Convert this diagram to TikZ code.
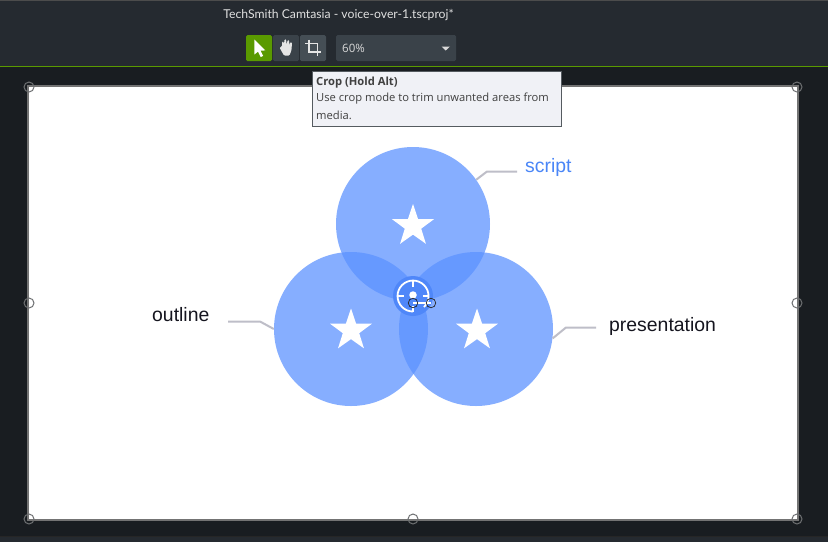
\documentclass[tikz,border=0pt]{standalone}
\usepackage{fontspec}
\setmainfont{Liberation Sans}
\newfontfamily\uifont{Open Sans}
\newfontfamily\titlefont{Lato}
\usetikzlibrary{shapes.geometric}
\definecolor{barbg}{HTML}{252A30}
\definecolor{darkbg}{HTML}{191D21}
\definecolor{greenline}{HTML}{5A9A00}
\definecolor{btn}{HTML}{3A4249}
\definecolor{btnb}{HTML}{454E55}
\definecolor{tipbg}{HTML}{F0F1F6}
\definecolor{tipline}{HTML}{555B60}
\definecolor{venn}{HTML}{5C92FF}
\definecolor{hub}{HTML}{4F87F9}
\definecolor{leader}{HTML}{BEBEC8}
\definecolor{scriptblue}{HTML}{4A86F7}
\definecolor{ink}{HTML}{15151F}
\definecolor{handle}{HTML}{6E7072}
\tikzset{x=1pt,y=-1pt,
  vennc/.style={circle,fill=venn,fill opacity=.74,minimum size=154pt,inner sep=0pt,draw=none},
  starm/.style={star,star points=5,star point ratio=2.55,fill=white,draw=none,minimum size=44pt,inner sep=0pt},
  leaderl/.style={draw=leader,line width=2pt},
  lab/.style={font=\fontsize{19.4}{22}\selectfont,text=ink,inner sep=0pt},
  handlec/.style={circle,draw=black!85,line width=.7pt,minimum size=9.5pt,inner sep=0pt},
  handleo/.style={circle,draw=handle,line width=1pt,minimum size=10pt,inner sep=0pt},
  tool/.style={minimum width=26pt,minimum height=26pt,inner sep=0pt,rounded corners=1.5pt},
  tiptext/.style={font=\uifont\fontsize{11.2}{13}\selectfont,text=black!75,inner sep=0pt,anchor=west},
}
\begin{document}
\begin{tikzpicture}
\useasboundingbox (0,0) rectangle (828,542);
% backgrounds
\fill[darkbg] (0,0) rectangle (828,542);
\fill[barbg] (0,0) rectangle (828,66);
\fill[greenline] (0,66) rectangle (828,67.4);
\fill[black!85] (0,535.6) rectangle (828,536.6);
\fill[barbg] (0,536.6) rectangle (828,542);
\fill[black!70] (0,0) rectangle (828,1);
% canvas
\node[draw=black!55!white,line width=1.6pt,fill=white,minimum width=770pt,minimum height=434pt,inner sep=0pt,anchor=north west] (canvas) at (27.3,85.2) {};
% title and tools
\node[font=\titlefont\fontsize{12.2}{15}\selectfont,text=white!88!black,inner sep=0pt] (title) at (338.5,15.5) {TechSmith Camtasia - voice-over-1.tscproj*};
\node[tool,fill=greenline] (arrowbtn) at (259,48) {};
\node[tool,fill=btn] (handbtn) at (286,48) {};
\node[tool,fill=btnb] (cropbtn) at (313,48) {};
\fill[white] (254.3,39.5) -- (254.3,54.6) -- (258,51.6) -- (260.7,57) -- (263.2,55.9) -- (260.6,50.7) -- (265.4,50.4) -- cycle;
\fill[white!90!black,rounded corners=1pt] (279.5,47.5) -- (282,46.5) -- (282,41.5) -- (283.5,41.5) -- (284,45) -- (284.5,39.3) -- (286,39.3) -- (286.7,45) -- (287.6,40) -- (289,40) -- (289,46) -- (290.2,42) -- (292,42.5) -- (291.5,50) -- (289.5,55.5) -- (284,55.5) -- cycle;
\draw[white!90!black,line width=1.8pt] (309,39.5) -- (309,52) -- (321,52);
\draw[white!90!black,line width=1.8pt] (305,43.5) -- (317.5,43.5) -- (317.5,56);
\node[tool,fill=btn,minimum width=120pt,anchor=west] (zoombox) at (336,48) {};
\node[font=\uifont\fontsize{11.5}{13}\selectfont,text=white!85!black,inner sep=0pt,anchor=west] (zoomtxt) at (342,48.5) {60\%};
\fill[white!85!black] (441.5,46.5) -- (450,46.5) -- (445.7,50.5) -- cycle;
% venn
\node[vennc] (top) at (413,224) {};
\node[vennc] (left) at (351,329) {};
\node[vennc] (right) at (476,329) {};
\node[starm] (s1) at (413,226) {};
\node[starm] (s2) at (351,330.5) {};
\node[starm] (s3) at (477,330.5) {};
% labels
\node[lab,text=scriptblue,anchor=west] (script) at (525,167.5) {script};
\node[lab,anchor=west] (outline) at (152,315) {outline};
\node[lab,anchor=west] (presentation) at (609,326.5) {presentation};
\coordinate (scriptend) at (517,171.5);
\coordinate (outlineend) at (228,321.5);
\coordinate (presend) at (596,327.5);
\draw[leaderl] (scriptend) -- (487,171.5) -- (top.35);
\draw[leaderl] (outlineend) -- (260,321.5) -- (left.180);
\draw[leaderl] (presend) -- (566,327.5) -- (right.353);
% hub
\node[circle,fill=hub,minimum size=40pt,inner sep=0pt] (hubc) at (413,296) {};
\draw[white,line width=1.8pt] (424,307) arc (45:-270:15.5);
\draw[white,line width=1.3pt] (413,280.5) -- (413,286.5) (397.5,296) -- (403.5,296) (422.5,296) -- (428.5,296) (413,305.5) -- (413,311.5);
\node[circle,fill=white,minimum size=7.5pt,inner sep=0pt] (dot) at (413,295) {};
\draw[white,line width=1.3pt] (413,303) -- (431,303);
\node[handlec] (hb) at (413,303) {};
\node[handlec] (hr) at (431,303) {};
% handles
\node[handleo] (h1) at (29,87) {};
\node[handleo] (h3) at (797,87) {};
\node[handleo] (h4) at (29,303) {};
\node[handleo] (h5) at (797,303) {};
\node[handleo] (h6) at (29,519) {};
\node[handleo] (h7) at (413,519) {};
\node[handleo] (h8) at (797,519) {};
% tooltip
\node[draw=tipline,line width=1pt,fill=tipbg,minimum width=249pt,minimum height=55pt,inner sep=0pt,anchor=north west] (tip) at (312,70.5) {};
\node[tiptext] (tip1) at (316,83) {\bfseries Crop (Hold Alt)};
\node[tiptext] (tip2) at (316,99) {Use crop mode to trim unwanted areas from};
\node[tiptext] (tip3) at (316,115) {media.};
\end{tikzpicture}
\end{document}
